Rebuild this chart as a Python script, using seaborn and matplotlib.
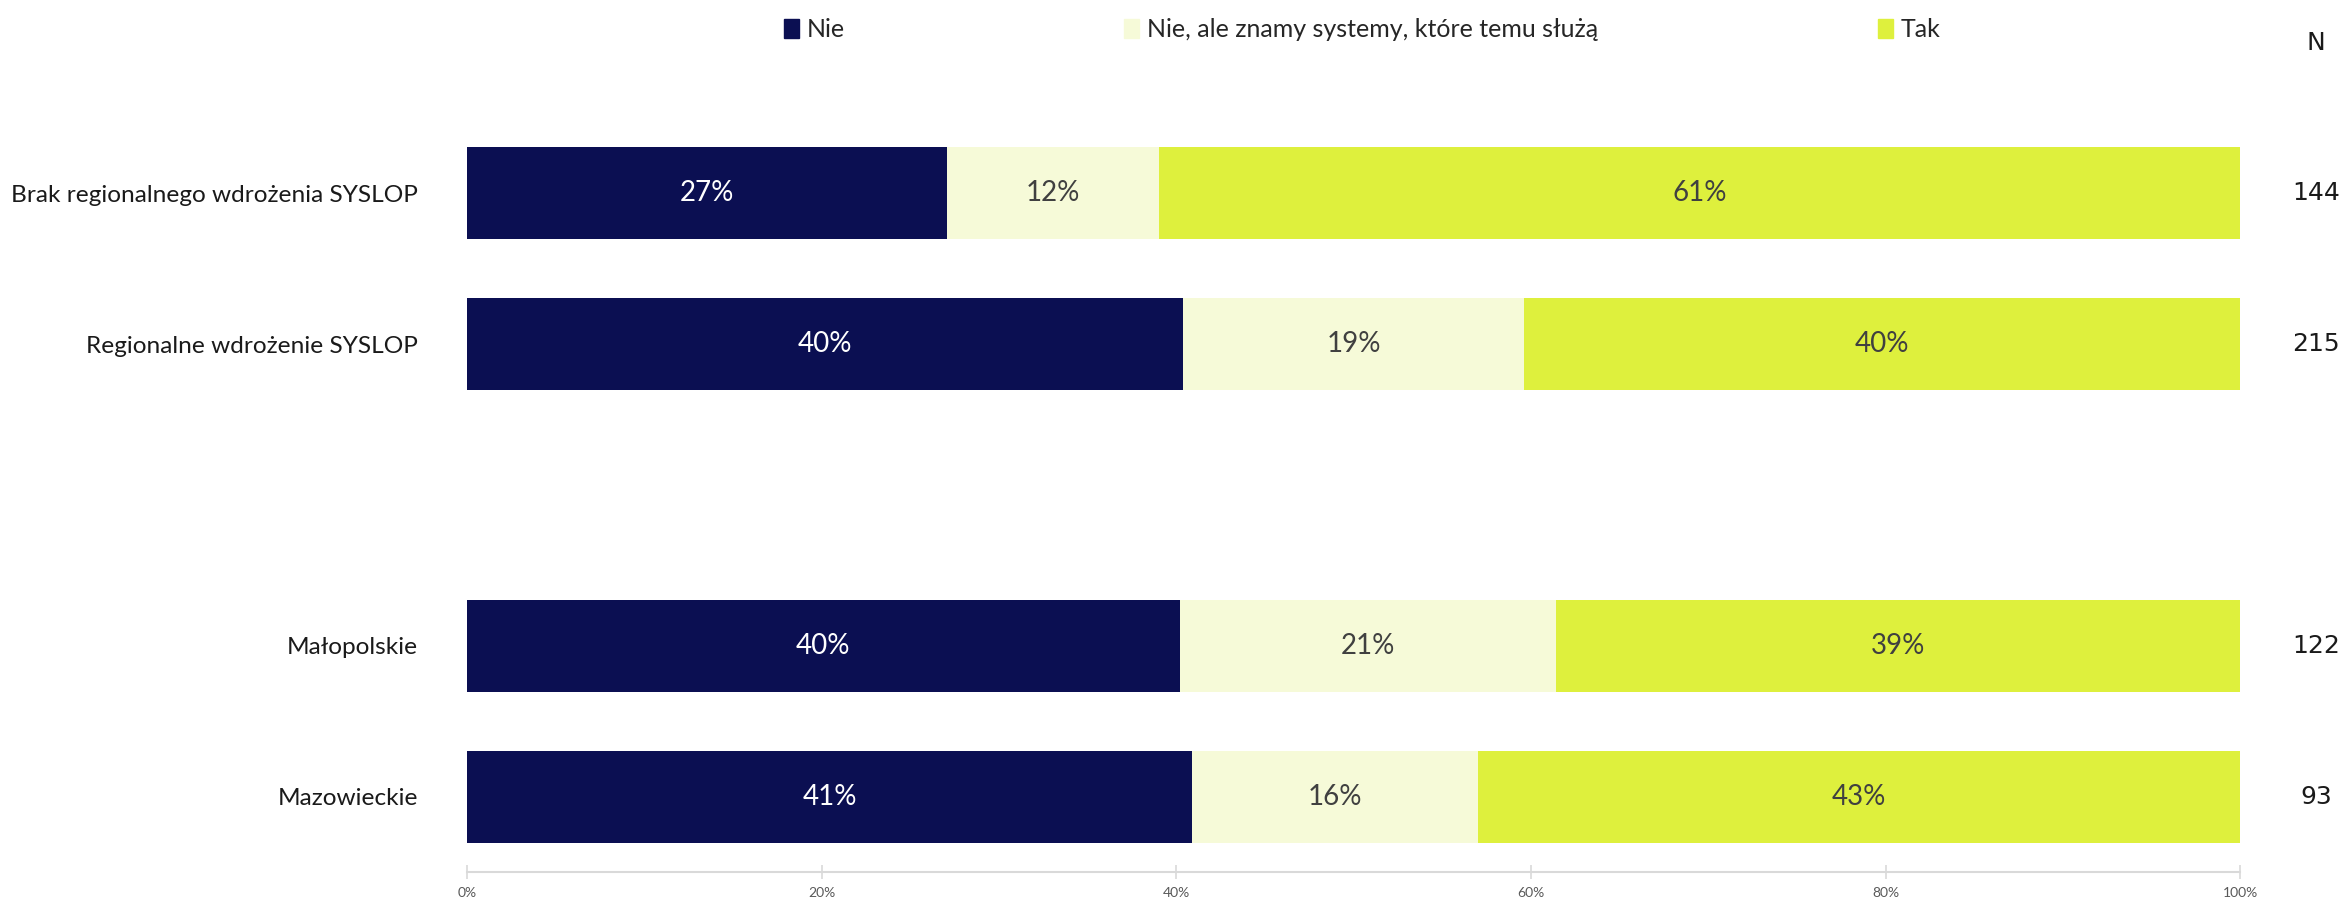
import pandas as pd
import matplotlib.pyplot as plt
import seaborn as sns

# data
categories = ['Brak regionalnego wdrożenia SYSLOP', 'Regionalne wdrożenie SYSLOP', '',
              'Małopolskie', 'Mazowieckie']
nie = [27.1, 40.4, 40.2, 40.9]
nie_ale = [11.9, 19.2, 21.2, 16.1]
tak = [61.0, 40.4, 38.6, 43.0]
n_counts = ['144', '215', '', '122', '93']
series_names = ['Nie', 'Nie, ale znamy systemy, które temu służą', 'Tak']
colors = ['#0B0F52', '#F6FAD8', '#DEF03D']
text_colors = ['white', '#404040', '#404040']

# put the empty gap row in its place
nie = nie[:2] + [None] + nie[2:]
nie_ale = nie_ale[:2] + [None] + nie_ale[2:]
tak = tak[:2] + [None] + tak[2:]

df = pd.DataFrame({'cat': categories, 'Nie': nie, 'NieAle': nie_ale, 'Tak': tak})
df['c1'] = df['Nie']
df['c2'] = df['Nie'] + df['NieAle']
df['c3'] = df['c2'] + df['Tak']

sns.set_style('white')
plt.rcParams['font.family'] = ['Lato', 'DejaVu Sans']

fig = plt.figure(figsize=(23.46, 9.01), dpi=100)
ax = fig.add_axes([0.199, 0.032, 0.756, 0.837])

# stacked bars: draw cumulative totals back to front
for col, color in zip(['c3', 'c2', 'c1'], colors[::-1]):
    sns.barplot(data=df, x=col, y='cat', order=categories, color=color,
                orient='h', width=0.61, linewidth=0, saturation=1, ax=ax)

# segment labels and N column
for i, row in df.iterrows():
    if pd.isna(row['Nie']):
        continue
    lefts = [0, row['c1'], row['c2']]
    vals = [row['Nie'], row['NieAle'], row['Tak']]
    for left, v, tc in zip(lefts, vals, text_colors):
        ax.text(left + v / 2, i, f'{v:.0f}%', ha='center', va='center',
                fontsize=20, color=tc)
    ax.text(1.0426, i, n_counts[i], transform=ax.get_yaxis_transform(),
            ha='center', va='center', fontsize=18, color='#1a1a1a',
            family='DejaVu Sans')
ax.text(1.0426, -1.0, 'N', transform=ax.get_yaxis_transform(), ha='center',
        va='center', fontsize=18, color='#1a1a1a', family='DejaVu Sans')

ax.set_xlim(0, 100)
ax.set_ylim(4.5, -0.5)
ax.set_xticks([0, 20, 40, 60, 80, 100])
ax.set_xticklabels([f'{t}%' for t in [0, 20, 40, 60, 80, 100]])
ax.set_xlabel('')
ax.set_ylabel('')
for s in ['top', 'right', 'left']:
    ax.spines[s].set_visible(False)
ax.spines['bottom'].set_color('#D9D9D9')
ax.spines['bottom'].set_linewidth(1.5)
ax.tick_params(axis='x', bottom=True, direction='inout', length=10, width=1.2,
               color='#D9D9D9', labelsize=10, labelcolor='#595959', pad=6)
ax.tick_params(axis='y', length=0, labelsize=17.6, labelcolor='#1a1a1a', pad=35)

handles = [plt.Rectangle((0, 0), 1, 1, color=c) for c in colors]
fig.legend(handles, series_names, loc='upper left', bbox_to_anchor=(0.3245, 1.005),
           ncol=3, frameon=False, fontsize=18, handlelength=0.6, handleheight=0.8,
           handletextpad=0.3, columnspacing=11.2)

fig.savefig('out.png', dpi=100)
